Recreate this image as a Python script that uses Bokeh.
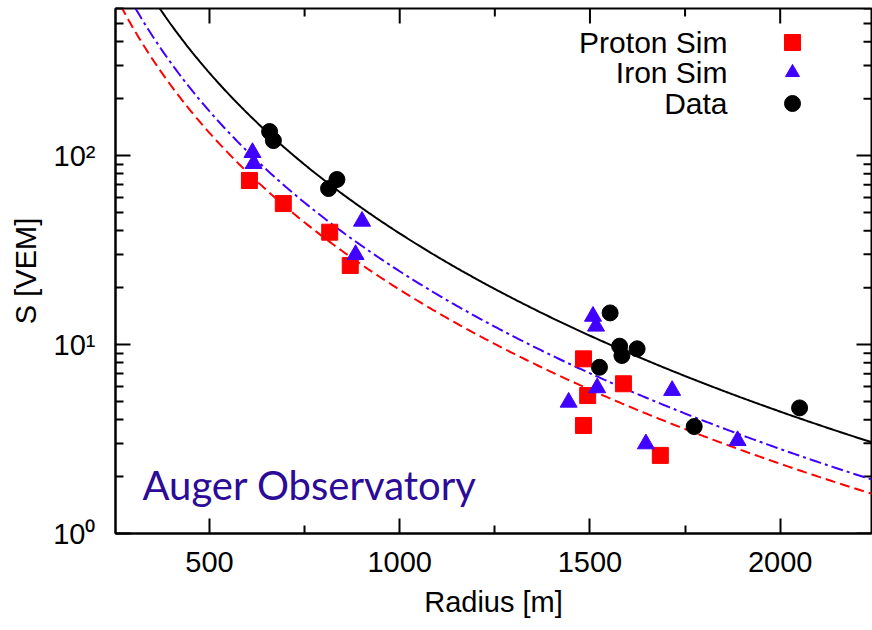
import numpy as np
from bokeh.plotting import figure
from bokeh.models import FixedTicker, Range1d
from bokeh.core.properties import value
from bokeh.embed import file_html
from bokeh.resources import INLINE

# ---- data ----
proton_r = [605, 694, 816, 870, 1483, 1494, 1588, 1483, 1685]
proton_s = [73.8, 55.7, 39.3, 26.2, 8.4, 5.37, 6.2, 3.73, 2.59]

iron_r = [613, 616, 901, 884, 1508, 1516, 1519, 1444, 1716, 1647, 1888]
iron_s = [103.7, 90.7, 44.9, 29.9, 14.1, 12.5, 5.9, 4.95, 5.71, 2.98, 3.1]

data_r = [658, 668, 813, 835, 1553, 1578, 1584, 1624, 1525, 1774, 2051]
data_s = [134, 120, 66.9, 74.7, 14.7, 9.8, 8.75, 9.49, 7.58, 3.68, 4.62]

# fitted lateral distribution functions (S1000, beta)
fit_data = (38.7, 1.878)
fit_iron = (24.4, 1.873)
fit_proton = (19.5, 1.835)

x_ticks = [500, 1000, 1500, 2000]
x_minor = [750, 1250, 1750]
y_ticks = [1, 10, 100]
y_minor = [2, 3, 4, 5, 6, 7, 8, 9, 20, 30, 40, 50, 60, 70, 80, 90, 200, 300, 400, 500, 600]
y_labels = {1: "10\u2070", 10: "10\u00b9", 100: "10\u00b2"}
legend_names = ["Proton Sim", "Iron Sim", "Data"]

X0, X1 = 253, 2240
Y0, Y1 = 1, 600
W, H = 872, 630
ML, MR, MT, MB = 115, 1, 8, 97
FW, FH = W - ML - MR, H - MT - MB

RED = "#ff0000"
BLUE = "#4000ff"
FONT = "Liberation Sans"
FS = "29px"


def ldf(r, s1000, beta):
    r = np.asarray(r, dtype=float)
    return s1000 * ((r / 1000.0) * ((r + 700.0) / 1700.0)) ** (-beta)


def sx(px):  # screen x (from canvas left) -> data x
    return X0 + (px - ML) / FW * (X1 - X0)


def sy(py):  # screen y (from canvas top) -> data y (log)
    l0, l1 = np.log10(Y0), np.log10(Y1)
    return 10 ** (l0 + (MT + FH - py) / FH * (l1 - l0))


p = figure(width=W, height=H, x_range=Range1d(X0, X1), y_range=Range1d(Y0, Y1),
           y_axis_type="log", output_backend="svg", toolbar_location=None,
           min_border_left=ML, min_border_right=MR, min_border_top=MT,
           min_border_bottom=MB)
p.grid.visible = False
p.outline_line_color = "black"
p.outline_line_width = 2
p.background_fill_color = "white"
p.border_fill_color = "white"

xt = FixedTicker(ticks=x_ticks, minor_ticks=x_minor)
yt = FixedTicker(ticks=y_ticks, minor_ticks=y_minor)

xa = p.xaxis[0]
xa.ticker = xt
ya = p.yaxis[0]
ya.ticker = yt
ya.major_label_overrides = y_labels

for ax in (xa, ya):
    ax.axis_line_width = 2
    ax.major_tick_line_width = 2
    ax.minor_tick_line_width = 2
    ax.major_tick_in = 15
    ax.major_tick_out = 0
    ax.minor_tick_in = 8
    ax.minor_tick_out = 0
    ax.major_label_text_font = FONT
    ax.major_label_text_font_size = FS
    ax.major_label_text_color = "black"
    ax.axis_label_text_font = FONT
    ax.axis_label_text_font_size = FS
    ax.axis_label_text_font_style = "normal"
    ax.axis_label_text_color = "black"

xa.axis_label = "Radius [m]"
xa.major_label_standoff = 18
xa.axis_label_standoff = 11
ya.axis_label = "S [VEM]"
ya.major_label_standoff = 20
ya.axis_label_standoff = 8

# tick marks on the top and right frame edges (mirroring the axis ticks)
y_top = sy(MT)
p.segment(x_ticks, [y_top] * len(x_ticks), x_ticks, [sy(MT + 15)] * len(x_ticks),
          line_color="black", line_width=2)
p.segment(x_minor, [y_top] * len(x_minor), x_minor, [sy(MT + 8)] * len(x_minor),
          line_color="black", line_width=2)
x_right = sx(W - MR)
p.segment([x_right] * len(y_ticks), y_ticks, [sx(W - MR - 15)] * len(y_ticks), y_ticks,
          line_color="black", line_width=2)
p.segment([x_right] * len(y_minor), y_minor, [sx(W - MR - 8)] * len(y_minor), y_minor,
          line_color="black", line_width=2)

# fit curves
rr = np.linspace(200, 2300, 500)
p.line(rr, ldf(rr, *fit_data), line_color="black", line_width=2)
p.line(rr, ldf(rr, *fit_iron), line_color=BLUE, line_width=2, line_dash="12 4 3 4")
p.line(rr, ldf(rr, *fit_proton), line_color=RED, line_width=2, line_dash="10 5")

# points
p.scatter(proton_r, proton_s, marker="square", size=16, color=RED)
p.scatter(iron_r, iron_s, marker="triangle", size=17, color=BLUE)
p.scatter(data_r, data_s, marker="circle", size=16, color="black")

# legend (text right-aligned, marker at right)
rows_py = [42, 72, 103]
text_px, mark_px = 727, 792
p.text([sx(text_px)] * 3, [sy(v) for v in rows_py], text=legend_names,
       text_align="right", text_baseline="middle", text_font=value(FONT),
       text_font_size="30px", text_color="black")
p.scatter([sx(mark_px)], [sy(rows_py[0])], marker="square", size=16, color=RED)
p.scatter([sx(mark_px)], [sy(rows_py[1])], marker="triangle", size=14, color=BLUE)
p.scatter([sx(mark_px)], [sy(rows_py[2])], marker="circle", size=16, color="black")

# annotation
p.text([sx(142)], [sy(484)], text=["Auger Observatory"], text_align="left",
       text_baseline="middle", text_font=value("Lato"), text_font_size="40px",
       text_color="#2b0b97")

open("out.html", "w").write(file_html(p, INLINE))
